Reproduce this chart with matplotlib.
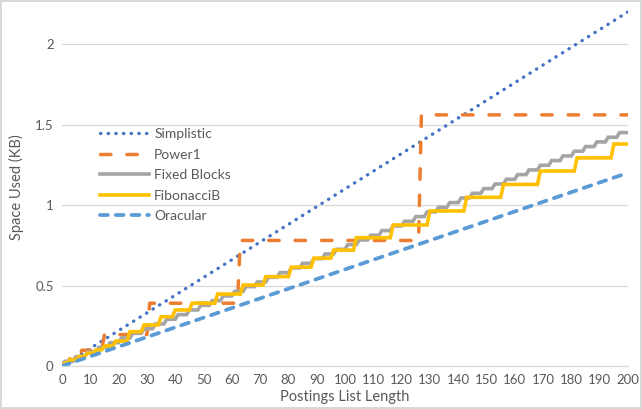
import matplotlib
matplotlib.use("Agg")
import matplotlib.pyplot as plt

# Postings list length (x) and space used in KB (y)
SIMPLISTIC_X = [0, 200]
SIMPLISTIC_Y = [0.0, 2.2]

ORACULAR_X = [0, 200]
ORACULAR_Y = [0.0, 1.2]

# step series: x where the next level starts, and the level reached there
POWER1_START = 0.012
POWER1_JUMPS = [1, 3, 7, 15, 31, 63, 127]
POWER1_LEVELS = [0.024, 0.049, 0.098, 0.195, 0.39, 0.78, 1.56]

FIXED_START = 0.0
FIXED_JUMPS = [1, 5, 9, 13, 17, 21, 25, 29, 33, 37, 41, 45, 49, 53, 57, 61, 65, 69,
               73, 77, 81, 85, 89, 93, 97, 101, 105, 109, 113, 117, 121, 125, 129,
               133, 137, 141, 145, 149, 153, 157, 161, 165, 169, 173, 177, 181, 185,
               189, 193, 197]
FIXED_LEVELS = [0.029, 0.058, 0.087, 0.116, 0.145, 0.174, 0.203, 0.232, 0.261, 0.29,
                0.319, 0.348, 0.377, 0.406, 0.435, 0.464, 0.493, 0.522, 0.551, 0.58,
                0.609, 0.638, 0.667, 0.696, 0.725, 0.754, 0.783, 0.812, 0.841, 0.87,
                0.899, 0.928, 0.957, 0.986, 1.015, 1.044, 1.073, 1.102, 1.131, 1.16,
                1.189, 1.218, 1.247, 1.276, 1.305, 1.334, 1.363, 1.392, 1.421, 1.45]

FIB_START = 0.0
FIB_JUMPS = [1, 3, 6, 9, 12, 15, 19, 24, 29, 35, 40, 46, 55, 64, 72, 81, 89, 96,
             104, 117, 130, 143, 156, 169, 182, 195]
FIB_LEVELS = [0.02, 0.04, 0.06, 0.08, 0.10, 0.125, 0.155, 0.213, 0.255, 0.306, 0.348,
              0.39, 0.447, 0.503, 0.555, 0.614, 0.67, 0.72, 0.797, 0.876, 0.963,
              1.048, 1.128, 1.211, 1.293, 1.379]

X_END = 200
X_TICKS = list(range(0, 201, 10))
Y_TICKS = [0, 0.5, 1, 1.5, 2]
Y_TICK_LABELS = ["0", "0.5", "1", "1.5", "2"]

TEXT_COLOR = "#595959"
GRID_COLOR = "#d9d9d9"


def step_points(start, jumps, levels, x_end):
    xs, ys = [0], [start]
    prev = start
    for j, lv in zip(jumps, levels):
        xs += [j - 1, j]
        ys += [prev, lv]
        prev = lv
    xs.append(x_end)
    ys.append(prev)
    return xs, ys


plt.rcParams.update({
    "font.family": ["Lato", "DejaVu Sans"],
})

fig = plt.figure(figsize=(6.42, 4.09), dpi=100)
fig.patch.set_edgecolor(GRID_COLOR)
fig.patch.set_linewidth(1.5)
ax = fig.add_axes([62 / 642, 43 / 409, 566 / 642, 358 / 409])

ax.plot(SIMPLISTIC_X, SIMPLISTIC_Y, color="#4472c4", linewidth=2.4,
        linestyle=(0, (0.1, 2.2)), dash_capstyle="round", label="Simplistic", zorder=3)

px, py = step_points(POWER1_START, POWER1_JUMPS, POWER1_LEVELS, X_END)
ax.plot(px, py, color="#ed7d31", linewidth=2.5, linestyle=(0, (3.0, 4.6)),
        dash_capstyle="round", label="Power1", zorder=3)

fx, fy = step_points(FIXED_START, FIXED_JUMPS, FIXED_LEVELS, X_END)
ax.plot(fx, fy, color="#a5a5a5", linewidth=2.6, solid_joinstyle="miter",
        label="Fixed Blocks", zorder=3)

bx, by = step_points(FIB_START, FIB_JUMPS, FIB_LEVELS, X_END)
ax.plot(bx, by, color="#ffc000", linewidth=2.6, solid_joinstyle="miter",
        label="FibonacciB", zorder=3)

ax.plot(ORACULAR_X, ORACULAR_Y, color="#5b9bd5", linewidth=2.7,
        linestyle=(0, (2.1, 2.1)), dash_capstyle="round", label="Oracular", zorder=3)

ax.set_xlim(0, X_END)
ax.set_ylim(0, 2.224)
ax.set_xticks(X_TICKS)
ax.set_yticks(Y_TICKS)
ax.set_yticklabels(Y_TICK_LABELS)
ax.tick_params(length=0, labelsize=9.5, colors=TEXT_COLOR, pad=6)
ax.grid(True, axis="y", color=GRID_COLOR, linewidth=0.9)
ax.set_axisbelow(True)
for side in ["top", "right", "left"]:
    ax.spines[side].set_visible(False)
ax.spines["bottom"].set_color(GRID_COLOR)
ax.spines["bottom"].set_linewidth(0.9)

ax.set_xlabel("Postings List Length", fontsize=10.5, color=TEXT_COLOR, labelpad=3)
ax.set_ylabel("Space Used (KB)", fontsize=10.5, color=TEXT_COLOR, labelpad=8)

leg = ax.legend(loc="upper left", bbox_to_anchor=(0.045, 0.70), frameon=False,
                fontsize=10, handlelength=3.5, labelspacing=0.62, handletextpad=0.4)
for t in leg.get_texts():
    t.set_color(TEXT_COLOR)

fig.savefig("out.png", dpi=100, edgecolor=fig.get_edgecolor())
